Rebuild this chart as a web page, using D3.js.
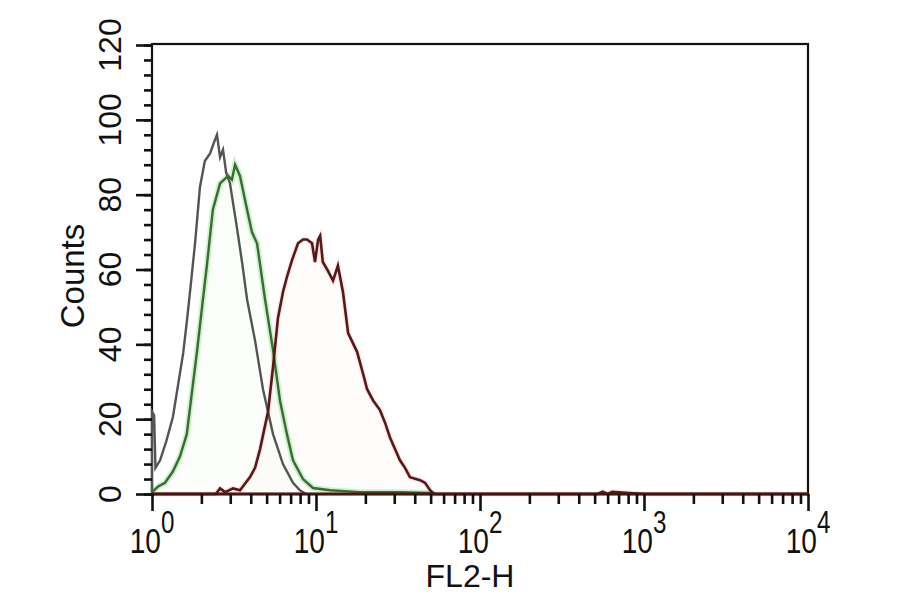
<!DOCTYPE html>
<html>
<head>
<meta charset="utf-8">
<script src="https://cdn.jsdelivr.net/npm/d3@7"></script>
<style>
html,body{margin:0;padding:0;background:#fff;}
svg{display:block;}
text{font-family:"Liberation Sans",Arial,sans-serif;fill:#111;}
</style>
</head>
<body>
<svg id="chart" width="900" height="594"></svg>
<script>
// ---- Data (FL2-H value, counts) ----
const isotypeFL = [1.0, 1.0, 1.03, 1.05, 1.12, 1.22, 1.34, 1.44, 1.55, 1.63, 1.71, 1.83, 1.96, 2.10, 2.26, 2.39, 2.49, 2.60, 2.71, 2.83, 2.99, 3.30, 3.54, 3.80, 4.25, 4.75, 5.47, 6.29, 7.24, 7.98, 8.69];
const isotypeCounts = [0, 22, 21, 7, 9, 14, 20.5, 29, 37.7, 46, 54.5, 67, 82, 89, 91, 94, 96, 90, 92, 86, 83, 71, 62, 52, 41, 28, 16, 8, 3, 1, 0];

const greenFL = [1.0, 1.09, 1.20, 1.34, 1.48, 1.63, 1.75, 1.88, 2.02, 2.16, 2.35, 2.60, 2.91, 3.07, 3.21, 3.44, 3.80, 4.07, 4.37, 4.89, 5.47, 6.03, 6.65, 7.24, 8.33, 9.59, 12.2, 18.5, 32.5, 49.6, 53.2];
const greenCounts = [0.5, 2, 3, 6, 10, 16, 27, 38, 50, 61, 76, 83, 85, 84, 88, 85, 76, 70, 67, 52, 38.5, 25, 16, 9, 4, 1.6, 1, 0.5, 0.5, 0.3, 0];

const redFL = [1.0, 2.45, 2.60, 2.79, 3.12, 3.44, 3.96, 4.25, 4.56, 4.82, 5.10, 5.47, 5.86, 6.29, 6.65, 7.14, 7.77, 8.33, 8.81, 9.46, 9.86, 10.3, 10.6, 11.0, 11.7, 12.7, 13.6, 14.6, 15.7, 17.8, 19.4, 20.5, 22.3, 24.5, 26.4, 28.3, 32.5, 34.9, 37.4, 43.1, 46.2, 49.6, 52.5, 520, 560, 600, 640, 1000, 10000];
const redCounts = [0, 0, 1.5, 0.5, 1.5, 1, 4.5, 7, 12, 17, 22, 34, 47, 54, 58, 62.5, 67, 68, 68, 67, 62, 68, 69, 62, 60, 57, 61, 54, 43, 38, 32, 28, 25, 22.5, 19, 15, 9, 7, 4.5, 3.7, 3, 1, 0, 0, 0.6, 0, 0.6, 0, 0];

const yMajorTicks = [0, 20, 40, 60, 80, 100, 120];
const xDecades = [0, 1, 2, 3, 4];
const xLabel = "FL2-H";
const yLabel = "Counts";

// ---- Layout ----
const svg = d3.select("#chart");
const L = 152, R = 808, T = 45, B = 494;
const x = d3.scaleLog().domain([1, 10000]).range([L, R]);
const y = d3.scaleLinear().domain([0, 120]).range([B, T]);

const zip = (a, b) => a.map((v, i) => [v, b[i]]);
const line = d3.line().x(d => x(d[0])).y(d => y(d[1]));
const area = d3.area().x(d => x(d[0])).y0(B).y1(d => y(d[1]));

// faint tints
svg.append("path").datum(zip(redFL, redCounts)).attr("d", area)
  .attr("fill", "#ffe4e4").attr("opacity", 0.12);
svg.append("path").datum(zip(greenFL, greenCounts)).attr("d", area)
  .attr("fill", "#e0f7e0").attr("opacity", 0.12);

// frame
svg.append("rect").attr("x", L).attr("y", T - 1).attr("width", R - L).attr("height", B - T + 1)
  .attr("fill", "none").attr("stroke", "#111").attr("stroke-width", 2.2);

// halos
svg.append("path").datum(zip(greenFL, greenCounts)).attr("d", line)
  .attr("fill", "none").attr("stroke", "#6fe06f").attr("stroke-width", 6).attr("opacity", 0.35);
svg.append("path").datum(zip(redFL, redCounts)).attr("d", line)
  .attr("fill", "none").attr("stroke", "#ff8a8a").attr("stroke-width", 5).attr("opacity", 0.22);

// core lines
svg.append("path").datum(zip(isotypeFL, isotypeCounts)).attr("d", line)
  .attr("fill", "none").attr("stroke", "#545454").attr("stroke-width", 2.4);
svg.append("path").datum(zip(greenFL, greenCounts)).attr("d", line)
  .attr("fill", "none").attr("stroke", "#3c6a37").attr("stroke-width", 2.4);
svg.append("path").datum(zip(redFL, redCounts)).attr("d", line)
  .attr("fill", "none").attr("stroke", "#541a1a").attr("stroke-width", 2.6);
// thick base line
svg.append("line").attr("x1", L).attr("x2", R).attr("y1", B).attr("y2", B)
  .attr("stroke", "#4a1414").attr("stroke-width", 3);

// y axis ticks
const yAxisMinor = d3.axisLeft(y).tickValues(d3.range(0, 121, 4)).tickSize(8).tickFormat("");
const yAxisMajor = d3.axisLeft(y).tickValues(yMajorTicks).tickSize(16).tickFormat("");
[yAxisMinor, yAxisMajor].forEach(ax => {
  const g = svg.append("g").attr("transform", `translate(${L},0)`).call(ax);
  g.select(".domain").remove();
  g.selectAll("line").attr("stroke", "#111").attr("stroke-width", 2.6);
});
// y tick labels (rotated)
svg.append("g").selectAll("text").data(yMajorTicks).join("text")
  .attr("transform", d => `translate(121,${y(d)}) rotate(-90)`)
  .attr("text-anchor", "middle").attr("font-size", 32).text(d => d);

// x axis ticks
const minorVals = [];
for (let e = 0; e < 4; e++) for (let m = 2; m <= 9; m++) minorVals.push(m * Math.pow(10, e));
const majorVals = xDecades.map(e => Math.pow(10, e));
const xAxisMinor = d3.axisBottom(x).tickValues(minorVals).tickSize(10).tickFormat("");
const xAxisMajor = d3.axisBottom(x).tickValues(majorVals).tickSize(17).tickFormat("");
[xAxisMinor, xAxisMajor].forEach(ax => {
  const g = svg.append("g").attr("transform", `translate(0,${B})`).call(ax);
  g.select(".domain").remove();
  g.selectAll("line").attr("stroke", "#111").attr("stroke-width", 2.6);
});
// x tick labels 10^n
const xl = svg.append("g").selectAll("g").data(xDecades).join("g")
  .attr("transform", d => `translate(${x(Math.pow(10, d))},553) scale(0.78,1)`);
const tx = xl.append("text").attr("text-anchor", "middle").attr("font-size", 36);
tx.append("tspan").text("10");
tx.append("tspan").attr("font-size", 31).attr("dy", -20).text(d => d);

// axis titles
svg.append("text").attr("x", 470).attr("y", 587).attr("text-anchor", "middle")
  .attr("font-size", 32).text(xLabel);
svg.append("text").attr("transform", "translate(84,276) rotate(-90)")
  .attr("text-anchor", "middle").attr("font-size", 33).text(yLabel);
</script>
</body>
</html>
